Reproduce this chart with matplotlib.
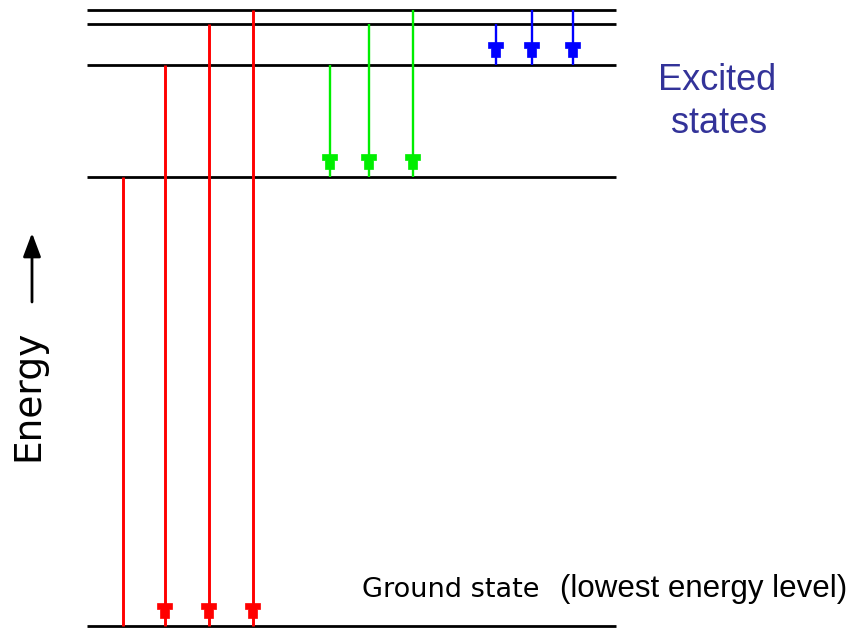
import matplotlib
matplotlib.use("Agg")
import matplotlib.pyplot as plt

# energy levels (arbitrary units, ground state = 0)
levels = [0, 449, 561, 602, 616]

# transitions: x position, upper level index, lower level index, draw head?
red_x = [123, 165, 209, 253]
red_from = [1, 2, 3, 4]
red_to = [0, 0, 0, 0]
red_head = [False, True, True, True]

green_x = [330, 369, 413]
green_from = [2, 3, 4]
green_to = [1, 1, 1]

blue_x = [496, 532, 573]
blue_from = [3, 4, 4]
blue_to = [2, 2, 2]

fig = plt.figure(figsize=(8.54, 6.28), dpi=100)
ax = fig.add_axes([0, 0, 1, 1])
ax.set_xlim(0, 854)
ax.set_ylim(-2, 626)
ax.axis("off")

# horizontal level lines
for e in levels:
    ax.plot([87, 616], [e, e], color="black", lw=2.0, solid_capstyle="butt", zorder=1)


def head(x, e, color):
    # pixelated arrow head just above the lower level
    gap, h, bar = 8, 15, 6
    b = e + gap
    xs = [x - 4.5, x + 4.5, x + 4.5, x + 7.5, x + 7.5, x - 7.5, x - 7.5, x - 4.5]
    ys = [b, b, b + h - bar, b + h - bar, b + h, b + h, b + h - bar, b + h - bar]
    ax.fill(xs, ys, color=color, lw=0.5, zorder=3)


def transitions(xs, frm, to, color, lw, heads=None):
    for i, x in enumerate(xs):
        ax.plot([x, x], [levels[frm[i]], levels[to[i]]], color=color, lw=lw,
                solid_capstyle="butt", zorder=2)
        if heads is None or heads[i]:
            head(x, levels[to[i]], color)


transitions(red_x, red_from, red_to, "#ff0000", 2.1, red_head)
transitions(green_x, green_from, green_to, "#00ee00", 1.7)
transitions(blue_x, blue_from, blue_to, "#0000ff", 1.7)

# labels
ax.text(717, 626 - 90, "Excited", color="#333399", fontsize=26,
        family="Liberation Sans", ha="center", va="baseline")
ax.text(719, 626 - 133, "states", color="#333399", fontsize=26,
        family="Liberation Sans", ha="center", va="baseline")

ax.text(362, 626 - 597, "Ground state", fontsize=19.5, family="DejaVu Sans",
        ha="left", va="baseline")
ax.text(560, 626 - 597, "(lowest energy level)", fontsize=22.5,
        family="Liberation Sans", ha="left", va="baseline")

ax.text(28, 626 - 395, "Energy", fontsize=27, family="DejaVu Sans",
        rotation=90, ha="center", va="center")
ax.annotate("", xy=(32, 626 - 233), xytext=(32, 626 - 302),
            arrowprops=dict(arrowstyle="-|>,head_length=0.72,head_width=0.27",
                            mutation_scale=20, color="black", lw=2.0,
                            shrinkA=0, shrinkB=0))

fig.savefig("out.png", dpi=100)
